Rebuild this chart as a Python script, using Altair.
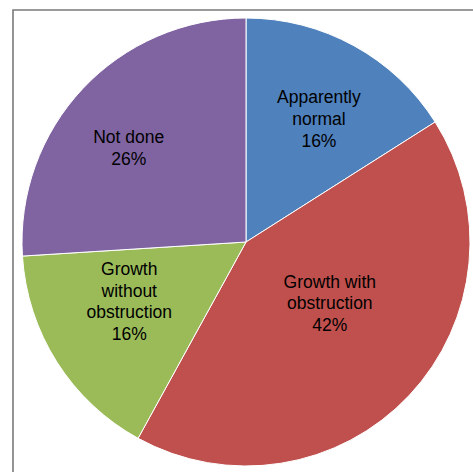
import altair as alt
import pandas as pd

categories = ["Apparently normal", "Growth with obstruction", "Growth without obstruction", "Not done"]
label_lines = ["Apparently\nnormal", "Growth with\nobstruction", "Growth\nwithout\nobstruction", "Not done"]
values = [16, 42, 16, 26]
colors = ["#4F81BD", "#C0504D", "#9BBB59", "#8064A2"]

df = pd.DataFrame({
    "idx": list(range(len(categories))),
    "cat": categories,
    "value": values,
    "label": [f"{l}\n{v}%" for l, v in zip(label_lines, values)],
})

# label placement (Excel "best fit"): angle nudge in degrees and radius in px
nudge_deg = {"Apparently normal": 2.1, "Growth with obstruction": -6.5,
             "Growth without obstruction": 5.0, "Not done": -4.8}
label_r = {"Apparently normal": 142, "Growth with obstruction": 104.5,
           "Growth without obstruction": 131.5, "Not done": 149.7}
nudge_expr = " : ".join(f"datum.cat == '{k}' ? {v}" for k, v in nudge_deg.items()) + " : 0"
r_expr = " : ".join(f"datum.cat == '{k}' ? {v}" for k, v in label_r.items()) + " : 140"

CX, CY = 246, 242
LH = 21.7

base = alt.Chart(df)

arc = base.mark_arc(outerRadius=224, stroke="white", strokeWidth=1).encode(
    theta=alt.Theta("value:Q", stack=True),
    order=alt.Order("idx:Q"),
    color=alt.Color("cat:N", scale=alt.Scale(domain=categories, range=colors), legend=None),
    x=alt.value(CX),
    y=alt.value(CY),
)

text = base.transform_joinaggregate(
    total="sum(value)"
).transform_window(
    cum="sum(value)", sort=[alt.SortField("idx")], frame=[None, 0]
).transform_calculate(
    ang=f"(datum.cum - datum.value/2) / datum.total * 2 * PI + ({nudge_expr}) * PI / 180",
    lr=r_expr,
    nl="length(split(datum.label, '\\n'))",
).transform_calculate(
    px=f"{CX} + datum.lr * sin(datum.ang)",
    py=f"{CY} - datum.lr * cos(datum.ang) - (datum.nl - 1) * {LH} / 2",
).mark_text(
    font="Liberation Sans", fontSize=17.5, lineHeight=LH, lineBreak="\n",
    align="center", baseline="middle", color="black",
).encode(
    x=alt.X("px:Q", scale=None),
    y=alt.Y("py:Q", scale=None),
    text="label:N",
)

frame = alt.Chart(pd.DataFrame({"f": [0]})).mark_rect(
    filled=False, stroke="#7a7a7a", strokeWidth=1.6
).encode(
    x=alt.value(13), y=alt.value(10), x2=alt.value(700), y2=alt.value(700)
)

chart = alt.layer(frame, arc, text).properties(
    width=473, height=472,
    padding=0,
    autosize=alt.AutoSizeParams(type="none"),
    background="white",
).configure_view(stroke=None)

chart.save("out.html", embed_options={"renderer": "svg", "actions": False})
